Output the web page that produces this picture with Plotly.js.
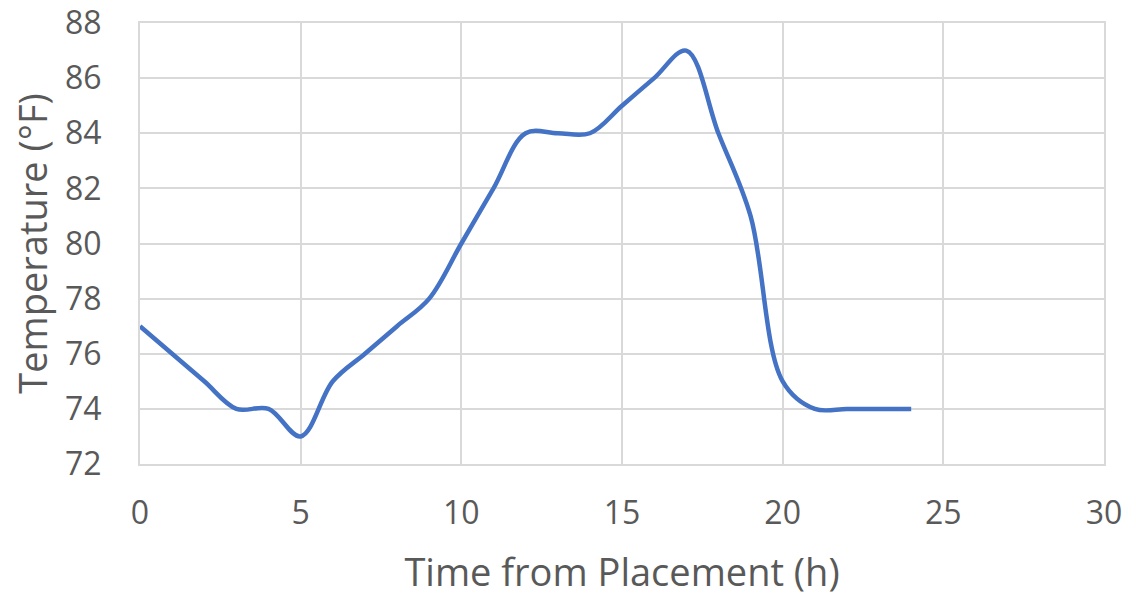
<!DOCTYPE html>
<html>
<head>
<meta charset="utf-8">
<script src="https://cdn.plot.ly/plotly-3.0.1.min.js"></script>
<style>html,body{margin:0;padding:0;background:#fff;}#chart{width:1136px;height:605px;}</style>
</head>
<body>
<div id="chart"></div>
<script>
const hours = [0,1,2,3,4,5,6,7,8,9,10,11,12,13,14,15,16,17,18,19,20,21,22,23,24];
const temperatureF = [77,76,75,74,74,73,75,76,77,78,80,82,84,84,84,85,86,87,84,81,75,74,74,74,74];
const xTicks = [0,5,10,15,20,25,30];
const yTicks = [72,74,76,78,80,82,84,86,88];
const xTitle = 'Time from Placement (h)';
const yTitle = 'Temperature (°F)';

const fontFam = 'Open Sans, sans-serif';
const grey = '#595959';
const grid = '#D9D9D9';

Plotly.newPlot('chart', [{
  x: hours, y: temperatureF, type: 'scatter', mode: 'lines',
  line: {color: '#4472C4', width: 4.5, shape: 'spline', smoothing: 1},
  hoverinfo: 'skip'
}], {
  width: 1136, height: 605,
  margin: {l: 140, r: 32, t: 23, b: 141},
  paper_bgcolor: '#fff', plot_bgcolor: '#fff',
  showlegend: false,
  font: {family: fontFam, color: grey},
  xaxis: {
    range: [0, 30], tickvals: xTicks, ticktext: xTicks.map(String),
    showgrid: true, gridcolor: grid, gridwidth: 2,
    showline: true, linecolor: grid, linewidth: 2, mirror: true,
    zeroline: false, ticklabeloverflow: 'allow',
    ticks: 'outside', ticklen: 20, tickcolor: 'rgba(0,0,0,0)',
    tickfont: {family: fontFam, size: 32, color: grey},
    title: {text: xTitle, font: {family: fontFam, size: 38, color: grey}, standoff: 27}
  },
  yaxis: {
    range: [72, 88], tickvals: yTicks, ticktext: yTicks.map(String),
    showgrid: true, gridcolor: grid, gridwidth: 2,
    showline: true, linecolor: grid, linewidth: 2, mirror: true,
    zeroline: false, ticklabeloverflow: 'allow',
    ticks: 'outside', ticklen: 30, tickcolor: 'rgba(0,0,0,0)',
    tickfont: {family: fontFam, size: 32, color: grey},
    title: {text: yTitle, font: {family: fontFam, size: 38, color: grey}, standoff: 6}
  }
}, {staticPlot: true});
</script>
</body>
</html>
